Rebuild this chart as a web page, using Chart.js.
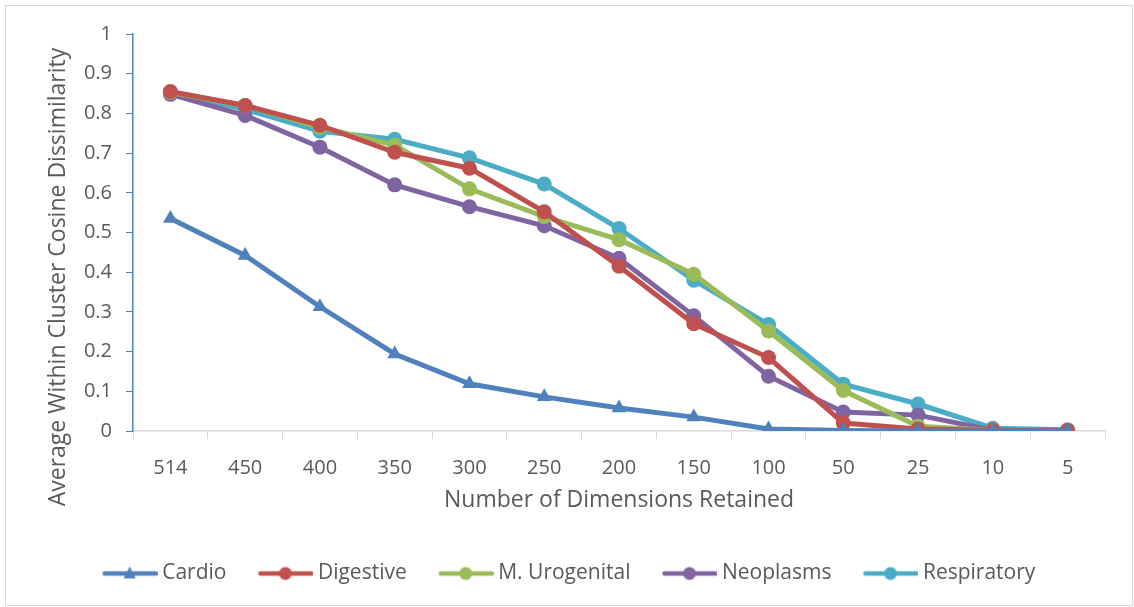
<!DOCTYPE html>
<html><head><meta charset="utf-8">
<script src="https://cdn.jsdelivr.net/npm/chart.js@4/dist/chart.umd.min.js"></script>
<style>html,body{margin:0;padding:0;background:#fff}#wrap{width:1134px;height:607px;position:relative}</style>
</head><body><div id="wrap"><canvas id="c" width="1134" height="607"></canvas></div>
<script>
const categories = ["514","450","400","350","300","250","200","150","100","50","25","10","5"];
const cardio      = [0.535,0.442,0.313,0.194,0.119,0.086,0.058,0.035,0.005,0.001,0.000,0.000,0.000];
const digestive   = [0.855,0.820,0.770,0.702,0.662,0.552,0.415,0.270,0.185,0.020,0.005,0.002,0.001];
const urogenital  = [0.853,0.820,0.765,0.720,0.610,0.540,0.482,0.395,0.252,0.102,0.012,0.002,0.001];
const neoplasms   = [0.848,0.795,0.715,0.620,0.565,0.517,0.435,0.290,0.138,0.048,0.040,0.002,0.001];
const respiratory = [0.853,0.810,0.755,0.735,0.688,0.622,0.510,0.380,0.268,0.118,0.068,0.007,0.003];
const seriesNames = ["Cardio","Digestive","M. Urogenital","Neoplasms","Respiratory"];
const seriesColors = ["#4F81BD","#C0504D","#9BBB59","#8064A2","#4BACC6"];
const seriesMarkers = ["triangle","circle","circle","circle","circle"];
const seriesData = [cardio,digestive,urogenital,neoplasms,respiratory];
const yTitle = "Average Within Cluster Cosine Dissimilarity";
const xTitle = "Number of Dimensions Retained";

function legendIcon(color, marker){
  const cv=document.createElement('canvas'); cv.width=62; cv.height=18;
  const g=cv.getContext('2d');
  g.strokeStyle=color; g.lineWidth=4.5; g.lineCap='round';
  g.beginPath(); g.moveTo(9,9); g.lineTo(60,9); g.stroke();
  g.fillStyle=color; g.beginPath();
  if(marker==='triangle'){ g.moveTo(34,2); g.lineTo(40,14); g.lineTo(28,14); g.closePath(); }
  else { g.arc(34,9,6.5,0,Math.PI*2); }
  g.fill();
  return cv;
}

const FONT = "'Open Sans', 'Liberation Sans', sans-serif";

const borderPlugin = {id:'outerBorder',
  beforeDraw(ch){const c=ch.ctx;c.save();c.fillStyle='#fff';c.fillRect(0,0,ch.width,ch.height);c.strokeStyle='#d9d9d9';c.lineWidth=1;c.strokeRect(5.5,5.5,ch.width-7,ch.height-7);c.restore();},
  afterDraw(ch){const c=ch.ctx;c.save();c.translate(58,277);c.rotate(-Math.PI/2);c.font="23px "+FONT;c.fillStyle='#595959';c.textAlign='center';c.textBaseline='middle';c.fillText(yTitle,0,0);c.restore();}
};

new Chart(document.getElementById('c'), {
  type:'line',
  data:{
    labels:categories,
    datasets:seriesData.map((d,i)=>({
      label:seriesNames[i], data:d,
      borderColor:seriesColors[i], backgroundColor:seriesColors[i],
      borderWidth:5, pointStyle:seriesMarkers[i],
      pointRadius: seriesMarkers[i]==='triangle'?8.5:7.5,
      pointBorderWidth:0, tension:0, fill:false
    }))
  },
  plugins:[borderPlugin],
  options:{
    responsive:false, animation:false, devicePixelRatio:1,
    layout:{padding:{left:32,right:29,top:34,bottom:13}},
    plugins:{
      tooltip:{enabled:false},
      legend:{position:'bottom',
        labels:{
          font:{family:FONT,size:21}, color:'#595959', usePointStyle:true, pointStyleWidth:50, boxHeight:18, padding:31,
          generateLabels(ch){ return ch.data.datasets.map((ds,i)=>({text:ds.label, pointStyle:legendIcon(seriesColors[i],seriesMarkers[i]), fillStyle:seriesColors[i], strokeStyle:seriesColors[i], lineWidth:0, datasetIndex:i, fontColor:'#595959'})); }
        }
      }
    },
    scales:{
      x:{
        offset:true,
        grid:{offset:true, drawOnChartArea:false, drawTicks:true, tickLength:8, color:'#d9d9d9'},
        border:{color:'#d9d9d9', width:1.5},
        ticks:{font:{family:FONT,size:20}, color:'#595959', padding:17, maxRotation:0},
        title:{display:true, text:xTitle, font:{family:FONT,size:23}, color:'#595959', padding:{top:0,bottom:18}},
        afterFit(s){ s.height=101; }
      },
      y:{
        min:0, max:1,
        grid:{drawOnChartArea:false, drawTicks:true, tickLength:7, color:'#4F81BD'},
        border:{color:'#4F81BD', width:1.5},
        ticks:{stepSize:0.1, font:{family:FONT,size:20}, color:'#595959', padding:14,
          callback(v){ return Math.round(v*10)/10 + ''; }},
        title:{display:false},
        afterFit(s){ s.width=101; }
      }
    }
  }
});
</script></body></html>
